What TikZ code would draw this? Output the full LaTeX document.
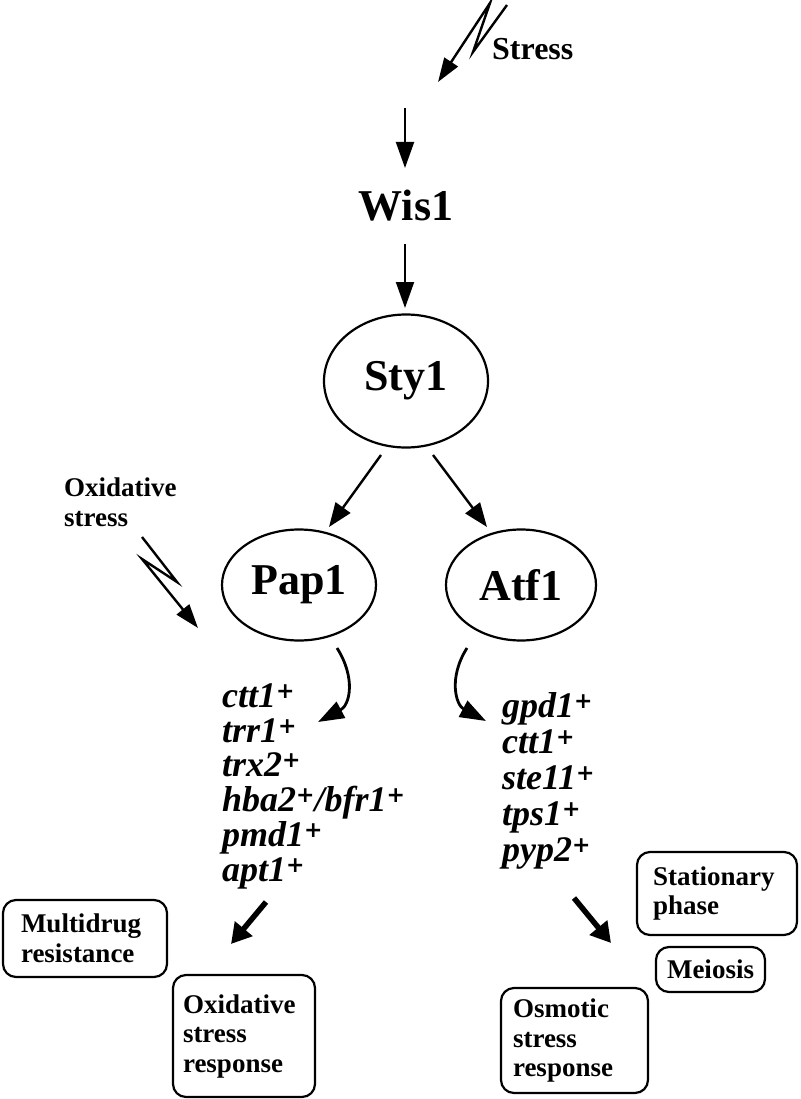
\documentclass[tikz,border=0pt]{standalone}
\usepackage{fontspec}
\setmainfont{Liberation Serif}
\newfontfamily\plusfont{DejaVu Sans}
\usetikzlibrary{arrows.meta,shapes.geometric}
\newcommand{\plussup}{\raisebox{0.24em}{\plusfont\fontsize{22}{22}\selectfont\upshape\bfseries +}}
\begin{document}
\begin{tikzpicture}[x=1pt,y=-1pt,
  big/.style={font=\fontsize{44}{48}\selectfont\bfseries},
  prot/.style={draw,ellipse,line width=2.2pt,inner sep=0pt,big},
  gene/.style={font=\fontsize{36}{36}\selectfont\bfseries\itshape,inner sep=0pt,anchor=base west},
  lab/.style={font=\fontsize{27}{30}\selectfont\bfseries,align=left,inner sep=0pt},
  outbox/.style={draw,rounded corners=13pt,line width=2.2pt,font=\fontsize{27}{29.5}\selectfont\bfseries,align=left,inner ysep=0pt},
  thin/.style={line width=2pt,-{Triangle[length=26pt,width=18pt]}},
  mid/.style={line width=2.4pt,-{Triangle[length=24pt,width=18pt]}},
  bolt/.style={line width=2.4pt,line join=miter,-{Triangle[length=24pt,width=16pt]}},
  curv/.style={line width=2.8pt,-{Triangle[length=26pt,width=18pt]}},
  fat/.style={line width=5.5pt,-{Triangle[length=20pt,width=22pt]}}]
\useasboundingbox (0,0) rectangle (800,1099);

% labels and nodes
\node[lab,anchor=base west,font=\fontsize{32}{34}\selectfont\bfseries] (stress) at (492,60) {Stress};
\node[big] (wis1) at (406,206) {Wis1};
\node[prot,minimum width=164pt,minimum height=133pt] (sty1) at (406,381) {Sty1};
\node[prot,minimum width=154pt,minimum height=111pt] (pap1) at (299,585) {Pap1};
\node[prot,minimum width=150pt,minimum height=111pt] (atf1) at (521,585) {Atf1};
\node[lab,anchor=north west] (ox) at (64,478) {Oxidative\\stress};

% gene lists
\node[gene] (L1) at (222,707) {ctt1\plussup};
\node[gene] (L2) at (222,742) {trr1\plussup};
\node[gene] (L3) at (222,776) {trx2\plussup};
\node[gene] (L4) at (222,811) {hba2\plussup/bfr1\plussup};
\node[gene] (L5) at (222,846) {pmd1\plussup};
\node[gene] (L6) at (222,881) {apt1\plussup};
\node[gene] (R1) at (502,717) {gpd1\plussup};
\node[gene] (R2) at (502,753) {ctt1\plussup};
\node[gene] (R3) at (502,789) {ste11\plussup};
\node[gene] (R4) at (502,825) {tps1\plussup};
\node[gene] (R5) at (502,861) {pyp2\plussup};

% outcome boxes
\node[outbox,text width=128pt,minimum height=77pt,inner xsep=18pt] (multi) at (85,938.5) {Multidrug\\resistance};
\node[outbox,text width=122pt,minimum height=122pt,inner xsep=10pt] (oxr) at (244,1036) {Oxidative\\stress\\response};
\node[outbox,text width=128pt,minimum height=83pt,inner xsep=16pt] (stat) at (717,893.5) {Stationary\\phase};
\node[outbox,minimum width=109pt,minimum height=45pt,inner xsep=8pt] (meio) at (710.5,969.5) {Meiosis};
\node[outbox,text width=123pt,minimum height=105pt,inner xsep=12pt] (osm) at (574.5,1040.5) {Osmotic\\stress\\response};

% coordinates for connector ends
\coordinate (w1) at (405,108);
\coordinate (w2) at (405,168);
\coordinate (w3) at (405,244);
\coordinate (w4) at (405,308);
\coordinate (b1) at (507,5);
\coordinate (b2) at (473,52);
\coordinate (b3) at (490,3);
\coordinate (b4) at (438,82);
\coordinate (o1) at (142,537);
\coordinate (o2) at (177,582);
\coordinate (o3) at (142,559);
\coordinate (o4) at (198,628);
\coordinate (sp1) at (381,455);
\coordinate (sp2) at (329,527);
\coordinate (sa1) at (433,455);
\coordinate (sa2) at (487,527);
\coordinate (pc1) at (337,648);
\coordinate (pc2) at (318,722);
\coordinate (ac1) at (467,648);
\coordinate (ac2) at (486,721);
\coordinate (fl1) at (266,902);
\coordinate (fl2) at (231,944);
\coordinate (fr1) at (574,898);
\coordinate (fr2) at (611,943);

% connectors
\draw[bolt] (b1) -- (b2) -- (b3) -- (b4);
\draw[bolt] (o1) -- (o2) -- (o3) -- (o4);
\draw[thin] (w1) -- (w2);
\draw[thin] (w3) -- (w4);
\draw[mid] (sp1) -- (sp2);
\draw[mid] (sa1) -- (sa2);
\draw[curv] (pc1) .. controls (356,678) and (350,705) .. (pc2);
\draw[curv] (ac1) .. controls (448,678) and (456,705) .. (ac2);
\draw[fat] (fl1) -- (fl2);
\draw[fat] (fr1) -- (fr2);
\end{tikzpicture}
\end{document}
